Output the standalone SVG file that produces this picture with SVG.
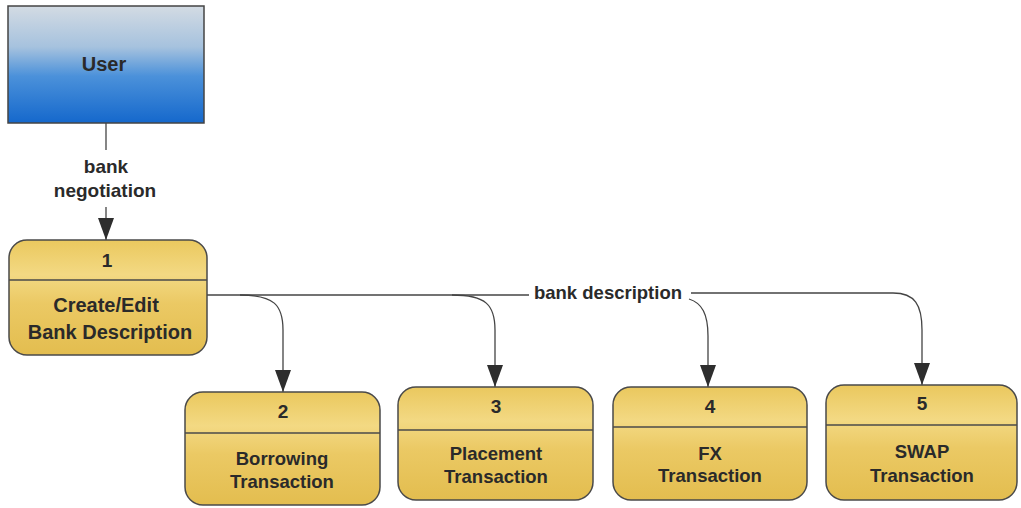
<svg xmlns="http://www.w3.org/2000/svg" width="1021" height="508" viewBox="0 0 1021 508">
<defs>
<linearGradient id="gUser" x1="0" y1="0" x2="0" y2="1">
<stop offset="0" stop-color="#d3dbe3"/>
<stop offset="0.35" stop-color="#a6c2de"/>
<stop offset="0.6" stop-color="#4b91da"/>
<stop offset="1" stop-color="#1568cc"/>
</linearGradient>
<linearGradient id="gProc" x1="0" y1="0" x2="0" y2="1">
<stop offset="0" stop-color="#eac85e"/>
<stop offset="0.3" stop-color="#f3d983"/>
<stop offset="0.55" stop-color="#ebc964"/>
<stop offset="1" stop-color="#e3bd4f"/>
</linearGradient>
<marker id="arr" viewBox="0 0 22 16" refX="22" refY="8" markerWidth="22" markerHeight="16" markerUnits="userSpaceOnUse" orient="auto">
<path d="M0,0 L22,8 L0,16 z" fill="#2e2e2e"/>
</marker>
<style>
.txt{font-family:"Liberation Sans",Arial,sans-serif;font-weight:bold;fill:#2a2a2a;text-anchor:middle}
.proc{fill:url(#gProc);stroke:#4a4a4a;stroke-width:1.5}
.div{stroke:#4a4a4a;stroke-width:1.3}
.conn{fill:none;stroke:#444;stroke-width:1.3}
</style>
</defs>
<rect width="1021" height="508" fill="#ffffff"/>

<g id="connectors">
<path class="conn" d="M106,123 V150"/>
<path class="conn" d="M106,207 V240" marker-end="url(#arr)"/>
<path class="conn" d="M207,295 H529"/>
<path class="conn" d="M240,295 C274,295 283,305 283,330 V392" marker-end="url(#arr)"/>
<path class="conn" d="M452,295 C486,295 495,305 495,330 V387" marker-end="url(#arr)"/>
<path class="conn" d="M689,299 C702,303 708,314 708,336 V387" marker-end="url(#arr)"/>
<path class="conn" d="M691,293 H893 C915,293 922,305 922,330 V385" marker-end="url(#arr)"/>
<text class="txt" x="106" y="173" font-size="19">bank</text>
<text class="txt" x="105" y="197" font-size="19">negotiation</text>
<text class="txt" x="608" y="299" font-size="18.5">bank description</text>
</g>

<g id="user">
<rect x="8" y="6" width="196" height="117" fill="url(#gUser)" stroke="#444" stroke-width="1.5"/>
<text class="txt" x="104" y="71" font-size="20">User</text>
</g>

<g id="node1">
<rect class="proc" x="9" y="240" width="198" height="115" rx="18"/>
<line class="div" x1="9" y1="280" x2="207" y2="280"/>
<text class="txt" x="107" y="267" font-size="19">1</text>
<text class="txt" x="106" y="312" font-size="20">Create/Edit</text>
<text class="txt" x="110" y="339" font-size="20">Bank Description</text>
</g>

<g id="node2">
<rect class="proc" x="185" y="392" width="195" height="113" rx="18"/>
<line class="div" x1="185" y1="433" x2="380" y2="433"/>
<text class="txt" x="283" y="418" font-size="19">2</text>
<text class="txt" x="282" y="465" font-size="18.5">Borrowing</text>
<text class="txt" x="282" y="488" font-size="18.5">Transaction</text>
</g>

<g id="node3">
<rect class="proc" x="398" y="387" width="195" height="113" rx="18"/>
<line class="div" x1="398" y1="430" x2="593" y2="430"/>
<text class="txt" x="496" y="413" font-size="19">3</text>
<text class="txt" x="496" y="460" font-size="18.5">Placement</text>
<text class="txt" x="496" y="483" font-size="18.5">Transaction</text>
</g>

<g id="node4">
<rect class="proc" x="613" y="387" width="194" height="113" rx="18"/>
<line class="div" x1="613" y1="427" x2="807" y2="427"/>
<text class="txt" x="710" y="413" font-size="19">4</text>
<text class="txt" x="710" y="460" font-size="18.5">FX</text>
<text class="txt" x="710" y="482" font-size="18.5">Transaction</text>
</g>

<g id="node5">
<rect class="proc" x="826" y="385" width="191" height="115" rx="18"/>
<line class="div" x1="826" y1="425" x2="1017" y2="425"/>
<text class="txt" x="922" y="410" font-size="19">5</text>
<text class="txt" x="922" y="458" font-size="18.5">SWAP</text>
<text class="txt" x="922" y="482" font-size="18.5">Transaction</text>
</g>
</svg>
